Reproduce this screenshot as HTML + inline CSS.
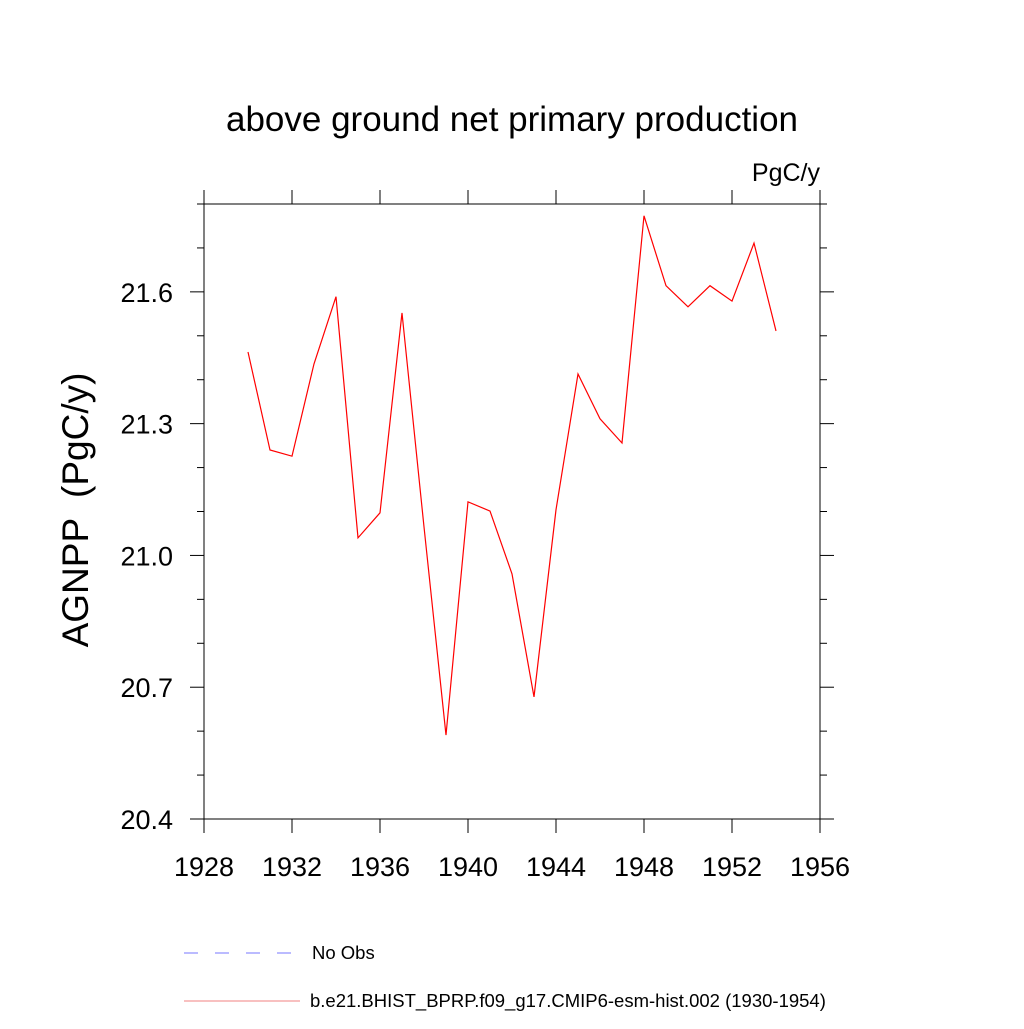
<!DOCTYPE html>
<html><head><meta charset="utf-8"><style>
body{margin:0;background:#fff}
svg text{font-family:"Liberation Sans",sans-serif;white-space:pre}
</style></head><body>
<svg id="c" width="1024" height="1024" xmlns="http://www.w3.org/2000/svg">
<text x="512" y="131" font-size="35" text-anchor="middle">above ground net primary production</text>
<text x="820" y="181" font-size="25" text-anchor="end">PgC/y</text>
<text transform="translate(88,510) rotate(-90)" font-size="37" text-anchor="middle" xml:space="preserve">AGNPP  (PgC/y)</text>
<g id="axes"></g>
<g id="series"></g>
<g>
<line x1="184" y1="953" x2="292" y2="953" stroke="#7777ff" stroke-width="1" stroke-dasharray="14,17"/>
<text x="312" y="959" font-size="18.5">No Obs</text>
<line x1="184" y1="1001" x2="300" y2="1001" stroke="#f08080" stroke-width="1"/>
<text x="310" y="1007" font-size="18.5">b.e21.BHIST_BPRP.f09_g17.CMIP6-esm-hist.002 (1930-1954)</text>
</g>
</svg>
<script>
const years=[1930,1931,1932,1933,1934,1935,1936,1937,1938,1939,1940,1941,1942,1943,1944,1945,1946,1947,1948,1949,1950,1951,1952,1953,1954];
const values=[21.463,21.240,21.226,21.436,21.589,21.040,21.097,21.552,21.065,20.591,21.122,21.101,20.958,20.678,21.104,21.413,21.311,21.256,21.773,21.614,21.566,21.614,21.579,21.711,21.511];
const xTicks=[1928,1932,1936,1940,1944,1948,1952,1956];
const yTicks=["20.4","20.7","21.0","21.3","21.6"];
const yMinor=[20.5,20.6,20.8,20.9,21.1,21.2,21.4,21.5,21.7,21.8];
const L=204,R=820,T=204,B=819,xmin=1928,xmax=1956,ymin=20.4,ymax=21.8;
const sx=v=>L+(v-xmin)/(xmax-xmin)*(R-L);
const sy=v=>B-(v-ymin)/(ymax-ymin)*(B-T);
const NS="http://www.w3.org/2000/svg";
const ax=document.getElementById('axes'),se=document.getElementById('series');
function ln(p,x1,y1,x2,y2,name){const l=document.createElementNS(NS,'line');l.setAttribute('x1',x1);l.setAttribute('y1',y1);l.setAttribute('x2',x2);l.setAttribute('y2',y2);l.setAttribute('stroke','#000');l.setAttribute('stroke-width','1');


p.appendChild(l);return l;}
function tx(x,y,s,anchor,name){const t=document.createElementNS(NS,'text');t.setAttribute('x',x);t.setAttribute('y',y);t.setAttribute('font-size','27');t.setAttribute('text-anchor',anchor);t.textContent=s;


ax.appendChild(t);}
const fr=document.createElementNS(NS,'rect');fr.setAttribute('x',L);fr.setAttribute('y',T);fr.setAttribute('width',R-L);fr.setAttribute('height',B-T);fr.setAttribute('fill','none');fr.setAttribute('stroke','#000');


ax.appendChild(fr);
xTicks.forEach(v=>{const x=sx(v);ln(ax,x,B,x,B+14,'x-tick');ln(ax,x,T,x,T-14,'x-tick-top');tx(x,B+57,String(v),'middle','x-tick-label');});
yTicks.forEach(s=>{const y=sy(+s);ln(ax,L,y,L-14,y,'y-tick');ln(ax,R,y,R+14,y,'y-tick-right');tx(L-31,y+10,s,'end','y-tick-label');});
yMinor.forEach(v=>{const y=sy(v);ln(ax,L,y,L-7,y,'y-minor-tick');ln(ax,R,y,R+7,y,'y-minor-tick-right');});
const pl=document.createElementNS(NS,'polyline');
pl.setAttribute('points',years.map((y,i)=>sx(y)+','+sy(values[i])).join(' '));
pl.setAttribute('fill','none');pl.setAttribute('stroke','#ff0000');pl.setAttribute('stroke-width','1.2');


se.appendChild(pl);
</script>
</body></html>
